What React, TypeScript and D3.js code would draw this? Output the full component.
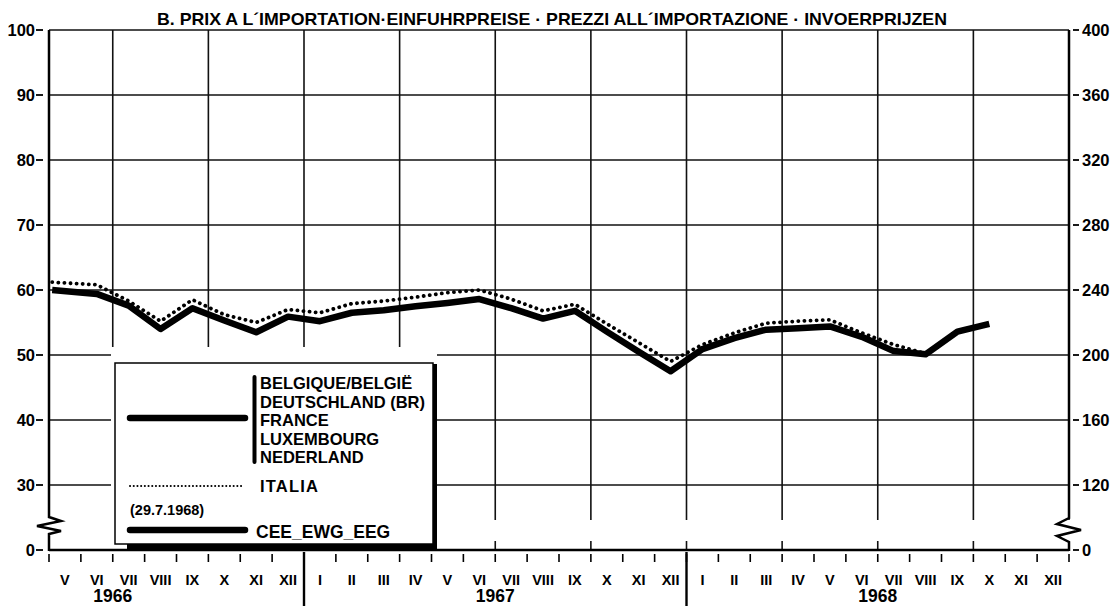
import * as d3 from 'd3'

// months shown on the axis: V 1966 .. XII 1968
const months1966 = ['V', 'VI', 'VII', 'VIII', 'IX', 'X', 'XI', 'XII']
const romanMonths = ['I', 'II', 'III', 'IV', 'V', 'VI', 'VII', 'VIII', 'IX', 'X', 'XI', 'XII']
const monthLabels = [...months1966, ...romanMonths, ...romanMonths]
const yearLabels = ['1966', '1967', '1968']
const firstMonthOfYear = 5 // series starts in May 1966

// left axis (index) and right axis (same scale x4)
const leftTicks = [100, 90, 80, 70, 60, 50, 40, 30]
const rightTicks = [400, 360, 320, 280, 240, 200, 160, 120]

// CEE / EWG / EEG (solid), V 1966 .. X 1968
const ceeValues = [
  60.0, 59.4, 57.6, 54.0, 57.2, 55.3, 53.5, 55.9,
  55.2, 56.5, 56.9, 57.5, 58.0, 58.6, 57.2, 55.6, 56.8, 53.6, 50.5, 47.5,
  50.9, 52.6, 53.9, 54.1, 54.4, 52.8, 50.6, 50.1, 53.6, 54.8
]

// Italia (dotted), V 1966 .. VIII 1968
const italiaValues = [
  61.2, 60.8, 58.3, 55.2, 58.5, 56.2, 55.0, 57.0,
  56.5, 57.9, 58.3, 58.9, 59.6, 60.0, 58.6, 56.8, 57.8, 54.8, 51.9, 49.0,
  51.6, 53.4, 54.9, 55.2, 55.4, 53.4, 51.6, 50.2
]

const legendCountries = ['BELGIQUE/BELGIË', 'DEUTSCHLAND (BR)', 'FRANCE', 'LUXEMBOURG', 'NEDERLAND']

const W = 1117
const H = 613
const FONT = '"Liberation Sans", Arial, sans-serif'

const left = 49
const right = 1069
const top = 30
const bottom = 550
const breakTop = 517
const breakBottom = 534

export default function App() {
  const x = d3.scaleLinear().domain([0, monthLabels.length]).range([left, right])
  // "0" sits where 20 would be (broken axis)
  const y = d3.scaleLinear().domain([20, 100]).range([bottom, top])
  const yRight = d3.scaleLinear().domain([80, 400]).range([bottom, top])

  const px = (i: number) => (i === 0 ? x(0.1) : x(i + 0.5))
  const line = d3.line<number>()
    .x((_, i) => px(i))
    .y(d => y(d))

  const boundaries = d3.range(0, monthLabels.length + 1)
  const gridBoundaries = boundaries.filter(k => k % 3 === 2)
  const yearStarts = yearLabels.map((_, i) => i * 12 - (firstMonthOfYear - 1))

  // legend box
  const lg = { x: 115, y: 363, w: 318, h: 181 }
  const inLegend = (xx: number) => xx > lg.x - 6 && xx < lg.x + lg.w + 6

  const zigLeft = `M${left},${top} L${left},${breakTop} L${left + 12},${breakTop + 4} L${left - 12},${breakTop + 9} L${left + 12},${breakTop + 14} L${left},${breakBottom} L${left},${bottom + 1}`
  const zigRight = `M${right},${top} L${right},${breakTop + 1} L${right - 12},${breakTop + 7} L${right + 12},${breakTop + 13} L${right - 12},${breakTop + 19} L${right},${breakBottom + 8} L${right},${bottom + 1}`

  return (
    <svg
      width={W}
      height={H}
      viewBox={`0 0 ${W} ${H}`}
      style={{ position: 'absolute', left: 0, top: 0, background: '#fff' }}
      fontFamily={FONT}
      fontWeight="bold"
    >
      <rect x={0} y={0} width={W} height={H} fill="#fff" />

      {/* title */}
      <text x={157} y={25} fontSize={17} textLength={790} lengthAdjust="spacingAndGlyphs">
        B. PRIX A L´IMPORTATION·EINFUHRPREISE · PREZZI ALL´IMPORTAZIONE · INVOERPRIJZEN
      </text>

      {/* horizontal grid */}
      {leftTicks.slice(1).map(v => (
        <line key={'h' + v} x1={left} x2={right} y1={y(v)} y2={y(v)} stroke="#111" strokeWidth={1.4} />
      ))}
      <line x1={left} x2={right} y1={top} y2={top} stroke="#111" strokeWidth={1.6} />

      {/* vertical grid, every three months */}
      {gridBoundaries.map(k => (
        <g key={'v' + k}>
          <line x1={x(k)} x2={x(k)} y1={top} y2={inLegend(x(k)) ? 347 : 520} stroke="#111" strokeWidth={1.6} />
          <line x1={x(k)} x2={x(k)} y1={541} y2={bottom} stroke="#111" strokeWidth={1.6} />
        </g>
      ))}

      {/* legend box with shadow */}
      <rect x={lg.x - 4} y={348} width={lg.w + 8} height={bottom - 348} fill="#fff" />
      <rect x={lg.x + 12} y={lg.y + 1} width={lg.w - 8} height={lg.h + 4} fill="#000" />
      <rect x={lg.x} y={lg.y} width={lg.w} height={lg.h} fill="#fff" stroke="#000" strokeWidth={1.5} />

      {/* axes */}
      <path d={zigLeft} fill="none" stroke="#000" strokeWidth={2.5} strokeLinejoin="miter" />
      <path d={zigRight} fill="none" stroke="#000" strokeWidth={2.5} strokeLinejoin="miter" />
      <line x1={left} x2={right} y1={bottom} y2={bottom} stroke="#000" strokeWidth={2.5} />

      {/* left ticks */}
      {leftTicks.map(v => (
        <g key={'lt' + v}>
          <line x1={36} x2={43} y1={y(v)} y2={y(v)} stroke="#000" strokeWidth={1.8} />
          <text x={35} y={y(v) + 6} fontSize={16.5} textAnchor="end">{v}</text>
        </g>
      ))}
      <line x1={36} x2={43} y1={y(20)} y2={y(20)} stroke="#000" strokeWidth={1.8} />
      <text x={35} y={y(20) + 6} fontSize={16.5} textAnchor="end">0</text>

      {/* right ticks */}
      {rightTicks.map(v => (
        <g key={'rt' + v}>
          <line x1={1073} x2={1079} y1={yRight(v)} y2={yRight(v)} stroke="#000" strokeWidth={1.8} />
          <text x={1082} y={yRight(v) + 6} fontSize={16.5}>{v}</text>
        </g>
      ))}
      <line x1={1073} x2={1079} y1={yRight(80)} y2={yRight(80)} stroke="#000" strokeWidth={1.8} />
      <text x={1082} y={yRight(80) + 6} fontSize={16.5}>0</text>

      {/* month ticks and labels */}
      {boundaries.map(k => (
        <line key={'mt' + k} x1={x(k)} x2={x(k)} y1={554} y2={562} stroke="#000" strokeWidth={1.6} />
      ))}
      {yearStarts.slice(1).map(k => (
        <line key={'ys' + k} x1={x(k)} x2={x(k)} y1={552} y2={606} stroke="#000" strokeWidth={2.4} />
      ))}
      {monthLabels.map((m, i) => (
        <text key={'ml' + i} x={x(i + 0.5)} y={585} fontSize={14.5} textAnchor="middle">{m}</text>
      ))}
      {yearLabels.map((yl, i) => (
        <text key={yl} x={x(yearStarts[i] + 6)} y={602} fontSize={17.5} textAnchor="middle">{yl}</text>
      ))}

      {/* series */}
      <path d={line(ceeValues) || ''} fill="none" stroke="#000" strokeWidth={6.5} strokeLinejoin="round" />
      <path
        d={line(italiaValues) || ''}
        fill="none"
        stroke="#000"
        strokeWidth={3.8}
        strokeDasharray="0.1 6"
        strokeLinecap="round"
      />

      {/* legend contents */}
      <line x1={130} x2={245} y1={418} y2={418} stroke="#000" strokeWidth={6.5} strokeLinecap="round" />
      <line x1={254.5} x2={254.5} y1={377} y2={462} stroke="#000" strokeWidth={4} strokeLinecap="round" />
      {legendCountries.map((c, i) => (
        <text key={c} x={260} y={389 + i * 18.5} fontSize={16.5}>{c}</text>
      ))}
      <line
        x1={130}
        x2={243}
        y1={486}
        y2={486}
        stroke="#000"
        strokeWidth={2}
        strokeDasharray="0.1 3.6"
        strokeLinecap="round"
      />
      <text x={260} y={492} fontSize={16.5} letterSpacing={1.2}>ITALIA</text>
      <text x={130} y={515} fontSize={14.5}>(29.7.1968)</text>
      <line x1={130} x2={245} y1={530} y2={530} stroke="#000" strokeWidth={6.5} strokeLinecap="round" />
      <text x={256} y={538} fontSize={17.5}>CEE_EWG_EEG</text>
    </svg>
  )
}
